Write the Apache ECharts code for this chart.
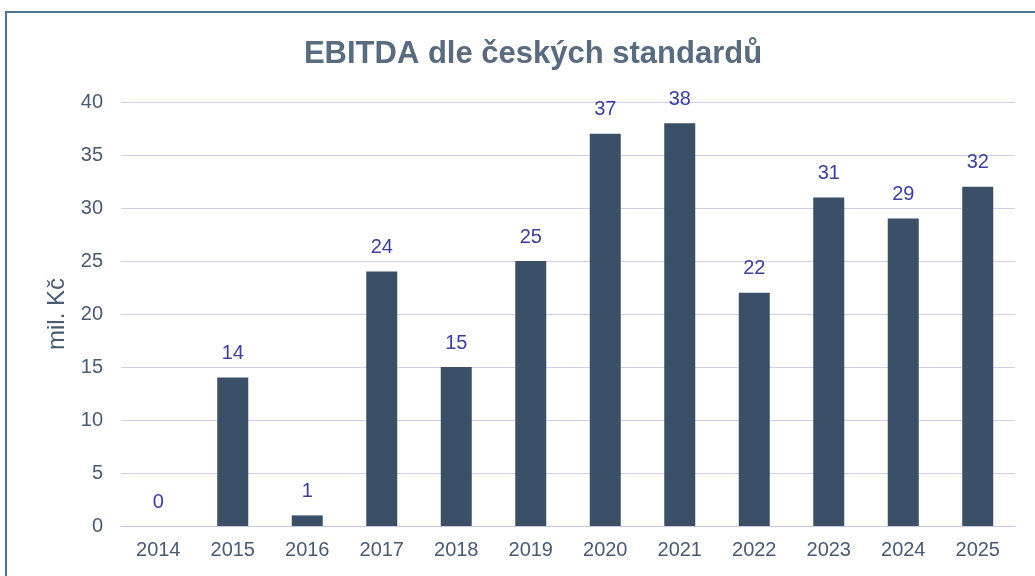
<!DOCTYPE html>
<html>
<head>
<meta charset="utf-8">
<script src="https://cdn.jsdelivr.net/npm/echarts@6/dist/echarts.min.js"></script>
<style>
  html, body { margin: 0; padding: 0; background: #fff; }
  #chart { width: 1035px; height: 576px; }
</style>
</head>
<body>
<div id="chart"></div>
<script>
// roky a hodnoty EBITDA (mil. Kč)
var years = ["2014", "2015", "2016", "2017", "2018", "2019", "2020", "2021", "2022", "2023", "2024", "2025"];
var ebitda = [0, 14, 1, 24, 15, 25, 37, 38, 22, 31, 29, 32];
var yTicks = { min: 0, max: 40, interval: 5 };

var myChart = echarts.init(document.getElementById("chart"));
var option = {
  backgroundColor: "#fff",
  textStyle: { fontFamily: "Liberation Sans, Arial, sans-serif" },
  title: {
    text: "EBITDA dle českých standardů",
    left: 528,
    top: 34,
    textAlign: "center",
    textStyle: { fontSize: 31, fontWeight: "bold", color: "#5b6b7f" }
  },
  graphic: [
    {
      type: "rect",
      shape: { x: 6, y: 12, width: 1060, height: 600 },
      style: { fill: null, stroke: "#4f7394", lineWidth: 2 }
    }
  ],
  grid: { left: 121, right: 20, top: 102, bottom: 50 },
  xAxis: {
    type: "category",
    data: years,
    axisLine: { lineStyle: { color: "#c9c9e6", width: 1 } },
    axisTick: { show: false },
    axisLabel: { color: "#4a5a70", fontSize: 20, margin: 14 }
  },
  yAxis: {
    type: "value",
    min: yTicks.min,
    max: yTicks.max,
    interval: yTicks.interval,
    name: "mil. Kč",
    nameLocation: "middle",
    nameGap: 52,
    nameTextStyle: { color: "#4a5a70", fontSize: 24 },
    axisLine: { show: false },
    axisTick: { show: false },
    axisLabel: { color: "#4a5a70", fontSize: 20, margin: 18 },
    splitLine: { lineStyle: { color: "#cfcfea", width: 1 } }
  },
  series: [
    {
      type: "bar",
      data: ebitda,
      barWidth: 31,
      itemStyle: { color: "#3b4f66" },
      label: {
        show: true,
        position: "top",
        distance: 14,
        color: "#3d4199",
        fontSize: 20
      }
    }
  ]
};
myChart.setOption(option);
</script>
</body>
</html>
